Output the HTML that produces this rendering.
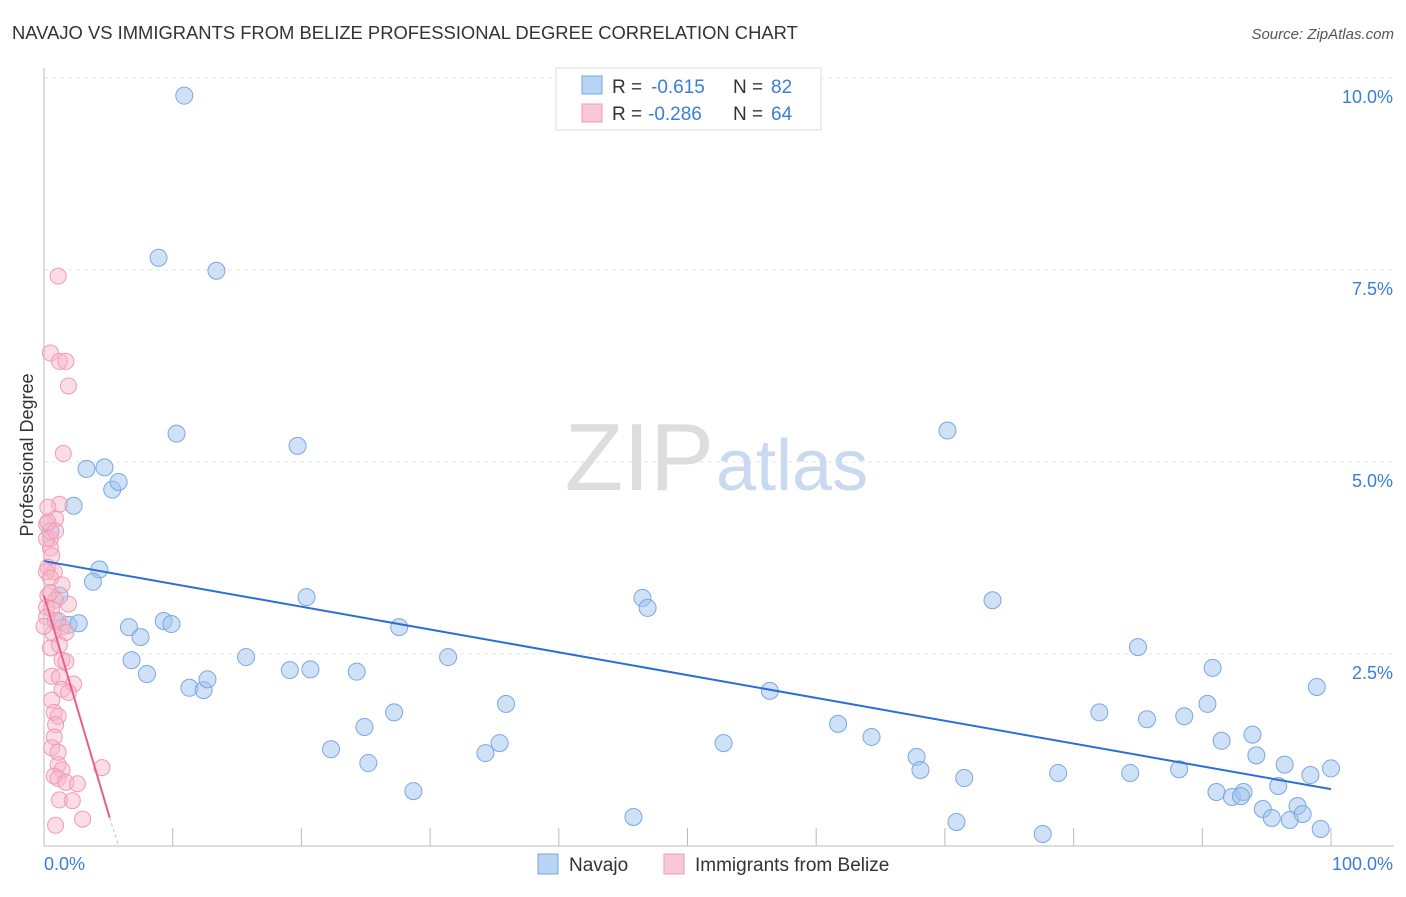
<!DOCTYPE html>
<html><head><meta charset="utf-8"><style>
body{margin:0;background:#fff;font-family:"Liberation Sans",sans-serif}
svg text{font-family:"Liberation Sans",sans-serif}
</style></head><body>
<svg id="chart" width="1406" height="892" xmlns="http://www.w3.org/2000/svg">
<text x="12" y="39" font-size="18.4" fill="#333">NAVAJO VS IMMIGRANTS FROM BELIZE PROFESSIONAL DEGREE CORRELATION CHART</text>
<text x="1394" y="39" font-size="15" fill="#555" text-anchor="end" font-style="italic">Source: ZipAtlas.com</text>
<g id="grid"></g>
<g id="xticks"></g>
<text x="714" y="490" font-size="96" fill="#ddd" text-anchor="end" font-family="Liberation Serif">ZIP</text>
<text x="716" y="490" font-size="72" fill="#c9d9ef">atlas</text>
<text transform="translate(33,455) rotate(-90)" font-size="18" fill="#333" text-anchor="middle">Professional Degree</text>
<g id="pts"></g>
<g>
<rect x="556" y="68" width="265" height="62" fill="#fff" stroke="#ddd"/>
<rect x="582" y="76" width="20" height="18" fill="#b8d3f4" stroke="#7aa8e0"/>
<text x="612" y="93" font-size="19" fill="#333">R =</text><text x="651" y="93" font-size="19" fill="#3b7dd8">-0.615</text>
<text x="733" y="93" font-size="19" fill="#333">N =</text><text x="771" y="93" font-size="19" fill="#3b7dd8">82</text>
<rect x="582" y="104" width="20" height="18" fill="#fbc8d6" stroke="#f09ab2"/>
<text x="612" y="120" font-size="19" fill="#333">R =</text><text x="648" y="120" font-size="19" fill="#3b7dd8">-0.286</text>
<text x="733" y="120" font-size="19" fill="#333">N =</text><text x="771" y="120" font-size="19" fill="#3b7dd8">64</text>
</g>
<g>
<rect x="538" y="854" width="20" height="20" fill="#b8d3f4" stroke="#7aa8e0"/>
<text x="569" y="871" font-size="19" fill="#333">Navajo</text>
<rect x="664" y="854" width="20" height="20" fill="#fbc8d6" stroke="#f09ab2"/>
<text x="695" y="871" font-size="19" fill="#333">Immigrants from Belize</text>
</g>
</svg>
<script>
const yTicks=[2.5,5,7.5,10];
const yTickLabels=["2.5%","5.0%","7.5%","10.0%"];
const navajoX=[10.9,8.9,13.4,10.3,19.7,3.3,4.7,5.3,5.8,2.3,4.3,3.8,1.2,0.9,1.9,2.7,6.6,7.5,9.3,9.9,6.8,8.0,11.3,12.4,12.7,15.7,19.1,20.7,24.3,20.4,27.6,31.4,24.9,27.2,35.9,22.3,25.2,28.7,34.3,35.4,46.5,46.9,45.8,52.8,56.4,61.7,64.3,67.8,68.1,71.5,70.9,70.2,73.7,77.6,78.8,82.0,84.4,85.0,85.7,88.2,88.6,90.4,90.8,91.1,91.5,92.3,93.2,93.9,94.2,94.7,95.4,95.9,96.4,96.8,97.4,97.8,98.4,98.9,99.2,100.0,93.0,0.5];
const navajoY=[9.77,7.66,7.49,5.37,5.21,4.91,4.93,4.64,4.74,4.43,3.6,3.44,3.26,2.93,2.88,2.9,2.85,2.72,2.93,2.89,2.42,2.24,2.06,2.03,2.17,2.46,2.29,2.3,2.27,3.24,2.85,2.46,1.55,1.74,1.85,1.26,1.08,0.715,1.21,1.34,3.23,3.1,0.378,1.34,2.02,1.59,1.42,1.16,0.990,0.885,0.313,5.41,3.20,0.156,0.951,1.74,0.951,2.59,1.65,1.0,1.69,1.85,2.32,0.703,1.37,0.638,0.703,1.45,1.18,0.482,0.365,0.781,1.06,0.339,0.521,0.417,0.924,2.07,0.221,1.01,0.65,4.1];
const belizeX=[1.1,0.5,1.2,1.7,1.9,1.5,1.2,0.3,0.9,0.2,0.5,0.5,0.6,0.3,0.8,0.2,0.5,0.3,0.9,1.9,0.2,0.6,1.1,1.4,1.7,0.7,0.5,1.2,1.4,1.7,0.6,1.2,2.3,1.4,1.9,0.6,0.8,1.1,0.9,0.8,0.6,1.1,1.1,1.4,4.5,0.8,1.1,1.7,2.6,1.2,2.2,0.9,3.0,0.3,0.2,0.5,0.2,0.0,1.4,0.9];
const belizeY=[7.42,6.42,6.31,6.31,5.99,5.11,4.45,4.41,4.26,4.19,4.0,3.88,3.78,3.63,3.57,3.57,3.49,3.26,3.2,3.15,3.11,3.09,2.94,2.85,2.78,2.77,2.58,2.62,2.42,2.4,2.21,2.2,2.11,2.04,2.0,1.9,1.74,1.69,1.58,1.42,1.28,1.22,1.06,0.99,1.02,0.91,0.88,0.83,0.81,0.6,0.59,0.27,0.35,4.22,4.0,3.3,2.98,2.86,3.4,4.1];
const navajoTrend=[3.71,0.74];
const belizeTrend=[3.26,0.37];
const ns="http://www.w3.org/2000/svg";
const X=v=>44+v*12.87, Y=v=>846-v*76.8;
function mk(t,a,p){const e=document.createElementNS(ns,t);for(const k in a)e.setAttribute(k,a[k]);(p||document.getElementById('chart')).appendChild(e);return e;}
const grid=document.getElementById('grid');
yTicks.forEach((t,i)=>{
 const l=mk('line',{x1:44,x2:1394,y1:Y(t),y2:Y(t),stroke:'#e4e4e4','stroke-dasharray':'4,4'},grid);
 
 
 const tx=mk('text',{x:1393,y:Y(t)+25,'font-size':18,fill:'#3b7dd8','text-anchor':'end'},grid);
 tx.textContent=yTickLabels[i];
 
 
});
const xt=document.getElementById('xticks');
mk('line',{x1:44,x2:44,y1:68,y2:846,stroke:'#bbb'},xt);
mk('line',{x1:44,x2:1394,y1:846,y2:846,stroke:'#bbb'},xt);
for(let i=0;i<=10;i++){const t=mk('line',{x1:X(i*10),x2:X(i*10),y1:828,y2:846,stroke:'#bbb'},xt);
 
 }
const l0=mk('text',{x:44,y:870,'font-size':18,fill:'#3b7dd8'},xt);l0.textContent='0.0%';
const l1=mk('text',{x:1393,y:870,'font-size':18,fill:'#3b7dd8','text-anchor':'end'},xt);l1.textContent='100.0%';
const pts=document.getElementById('pts');
navajoX.forEach((v,i)=>{const c=mk('circle',{cx:X(v),cy:Y(navajoY[i]),r:8.5,fill:'rgba(160,196,240,0.5)',stroke:'#7aa8e0','stroke-width':1},pts);
 
 });
belizeX.forEach((v,i)=>{const c=mk('circle',{cx:X(v),cy:Y(belizeY[i]),r:8,fill:'rgba(248,180,200,0.45)',stroke:'#f09ab2','stroke-width':1},pts);
 
 });
const tl=mk('line',{x1:X(0),y1:Y(navajoTrend[0]),x2:X(100),y2:Y(navajoTrend[1]),stroke:'#2a6fd6','stroke-width':2});


const tp=mk('line',{x1:X(0),y1:Y(belizeTrend[0]),x2:X(5.1),y2:Y(belizeTrend[1]),stroke:'#e8608a','stroke-width':2});


const td=mk('line',{x1:X(5.1),y1:Y(belizeTrend[1]),x2:X(5.8),y2:Y(0),stroke:'#bbb','stroke-width':1,'stroke-dasharray':'3,3'});


</script>
</body></html>
